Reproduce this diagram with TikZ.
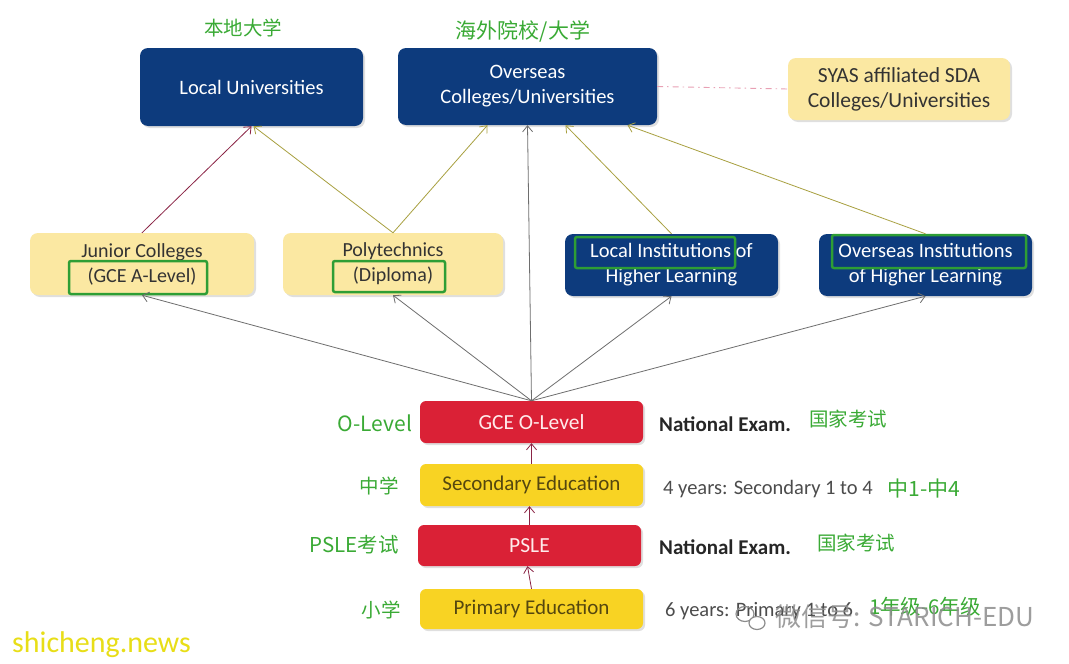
\documentclass[tikz,border=0pt]{standalone}
\usepackage{fontspec}
\setmainfont{Carlito}
\newfontfamily\cjk{Noto Sans CJK SC}
\usetikzlibrary{shadows,arrows.meta,calc}
\definecolor{navy}{HTML}{0D3B7D}
\definecolor{paleyel}{HTML}{FBE8A2}
\definecolor{exred}{HTML}{DA2136}
\definecolor{gold}{HTML}{F8D323}
\definecolor{lblgreen}{HTML}{3AAA35}
\definecolor{boxgreen}{HTML}{2E9E35}
\definecolor{arrgrey}{HTML}{6E6E6E}
\definecolor{arrred}{HTML}{8A2445}
\definecolor{arrolive}{HTML}{A8A040}
\definecolor{dashpink}{HTML}{E8A0B4}
\definecolor{txtdark}{HTML}{333333}
\definecolor{txtgold}{HTML}{55470F}
\begin{document}
\begin{tikzpicture}[x=1pt,y=-1pt,
  base/.style={rounded corners=8pt, inner sep=0pt, align=center,
     drop shadow={shadow xshift=2pt,shadow yshift=-2pt,opacity=0.25}},
  navybox/.style={base, fill=navy, text=white, font=\fontsize{20.5}{25}\selectfont},
  yelbox/.style={base, fill=paleyel, text=txtdark, font=\fontsize{20}{25}\selectfont},
  redbox/.style={base, rounded corners=6pt, fill=exred, text=white!92!red, font=\fontsize{21.5}{22}\selectfont},
  goldbox/.style={base, rounded corners=6pt, fill=gold, text=txtgold, font=\fontsize{21}{22}\selectfont},
  cnlabel/.style={text=lblgreen, font=\cjk\fontsize{19.5}{21}\selectfont, inner sep=0pt},
  exam/.style={text=black!85, font=\bfseries\fontsize{21}{22}\selectfont, anchor=west, inner sep=0pt},
  years/.style={text=black!70, font=\fontsize{20.5}{22}\selectfont, anchor=west, inner sep=0pt},
  hl/.style={draw=boxgreen, line width=2.5pt, rounded corners=2pt},
  conn/.style={line width=0.8pt, -{Straight Barb[length=6pt,width=10pt]}},
]
\useasboundingbox (0,0) rectangle (1069,664);
\fill[white] (0,0) rectangle (1069,664);

% top row
\node[navybox, minimum width=223pt, minimum height=78pt] (LU) at (251.5,87) {Local Universities};
\node[navybox, minimum width=259pt, minimum height=77pt] (OU) at (527.5,86.5) {Overseas\\Colleges/Universities};
\node[yelbox, font=\fontsize{21.5}{25}\selectfont, minimum width=222pt, minimum height=62pt] (SY) at (899,89) {SYAS affiliated SDA\\Colleges/Universities};

\node[cnlabel] (cnLU) at (243,28) {本地大学};
\node[cnlabel, font=\cjk\fontsize{21}{22}\selectfont] (cnOU) at (523,31) {海外院校/大学};

% second row
\node[yelbox, minimum width=224pt, minimum height=62pt] (JC) at (142,264) {Junior Colleges\\(GCE A-Level)};
\node[yelbox, minimum width=220pt, minimum height=62pt] (PO) at (393,264) {Polytechnics\\(Diploma)};
\node[navybox, minimum width=213pt, minimum height=62pt] (LI) at (671.5,265) {Local Institutions of\\Higher Learning};
\node[navybox, minimum width=213pt, minimum height=62pt] (OI) at (925.5,265) {Overseas Institutions\\of Higher Learning};

% green highlights
\draw[hl] (69,261) rectangle (207,294);
\draw[hl] (333,261) rectangle (445,292);
\draw[hl] (575,237) rectangle (735,268);
\draw[hl] (832,235) rectangle (1026,268);

% bottom stack
\node[redbox, minimum width=223pt, minimum height=42pt] (OL) at (531.5,422) {GCE O-Level};
\node[goldbox, minimum width=223pt, minimum height=42pt] (SE) at (531.5,485) {Secondary Education};
\node[redbox, minimum width=223pt, minimum height=41pt] (PS) at (529.5,545.5) {PSLE};
\node[goldbox, minimum width=223pt, minimum height=40pt] (PR) at (531.5,609) {Primary Education};

% left labels
\node[cnlabel, font=\cjk\fontsize{21}{22}\selectfont] (lOL) at (375,423) {O-Level};
\node[cnlabel] (lSE) at (379,486) {中学};
\node[cnlabel, font=\cjk\fontsize{20.5}{22}\selectfont] (lPS) at (354,545) {PSLE考试};
\node[cnlabel] (lPR) at (381,610) {小学};

% right labels
\node[exam] (ne1) at (659,424) {National Exam.};
\node[cnlabel] (cn1) at (848,419) {国家考试};
\node[years] (y1) at (663,489) {4 years: Secondary 1 to 4};
\node[cnlabel, font=\cjk\fontsize{21}{22}\selectfont] (cn2) at (924,489) {中1-中4};
\node[exam] (ne2) at (659,547) {National Exam.};
\node[cnlabel] (cn3) at (856,543) {国家考试};
\node[years] (y2) at (665,611) {6 years: Primary 1 to 6};
\node[cnlabel, font=\cjk\fontsize{20.5}{22}\selectfont] (cn4) at (925,607) {1年级-6年级};

% connectors
\draw[conn, arrred] (JC.north) -- (LU.south);
\draw[conn, arrolive] (PO.north) -- ([xshift=2pt]LU.south);
\draw[conn, arrolive] (PO.north) -- ([xshift=-40pt]OU.south);
\draw[conn, arrolive] (LI.north) -- ([xshift=38pt]OU.south);
\draw[conn, arrolive] (OI.north) -- ([xshift=100pt]OU.south);
\draw[conn, arrgrey] (OL.north) -- (OU.south);
\draw[conn, arrgrey] (OL.north) -- (JC.south);
\draw[conn, arrgrey] (OL.north) -- (PO.south);
\draw[conn, arrgrey] (OL.north) -- (LI.south);
\draw[conn, arrgrey] (OL.north) -- (OI.south);
\draw[conn, arrred] (SE.north) -- (OL.south);
\draw[conn, arrred] (PS.north) -- ([xshift=-2pt]SE.south);
\draw[conn, arrred] (PR.north) -- ([xshift=-2pt]PS.south);
\draw[dashpink, line width=0.9pt, dash pattern=on 6pt off 4pt on 1.5pt off 4pt] (OU.east) -- (SY.west);

% watermarks
\node[text=black!45, opacity=0.85, font=\cjk\fontsize{26}{27}\selectfont, inner sep=0pt] (wm) at (905,617) {微信号: STARICH-EDU};
\draw[black!45, line width=1.2pt] (745,614) ellipse (9pt and 7.5pt);
\draw[black!45, line width=1.2pt, fill=white] (757,623) ellipse (8pt and 6.5pt);
\node[text=yellow!90!black, font=\fontsize{30}{31}\selectfont, inner sep=0pt, anchor=west] (sc) at (12,645) {shicheng.news};
\end{tikzpicture}
\end{document}
